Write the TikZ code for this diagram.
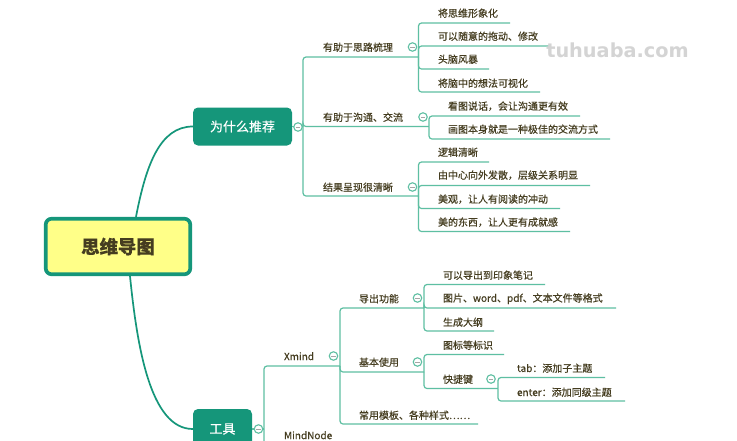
\documentclass[tikz,border=0pt]{standalone}
\usepackage{fontspec}
\setmainfont[FakeBold=0.4]{Noto Sans CJK SC}
\newfontfamily\markfont{DejaVu Sans}
\definecolor{deepgreen}{HTML}{15967A}
\definecolor{softgreen}{HTML}{5EBFA2}
\definecolor{inkbrown}{HTML}{453D20}
\definecolor{paleyellow}{HTML}{FFFF88}
\tikzset{
  topictext/.style={anchor=west,inner sep=0pt,outer sep=0pt,yshift=-0.2pt,text=inkbrown,font=\fontsize{10}{12}\selectfont},
  link/.style={draw=softgreen,line width=1.2pt,rounded corners=3pt},
  mainlink/.style={draw=deepgreen,line width=1.7pt},
  branchbox/.style={draw=none,fill=deepgreen,rounded corners=5pt,inner sep=0pt,minimum width=99pt,text=white,font=\fontsize{13}{15}\selectfont},
  toggle/.style={circle,draw=softgreen,line width=1.1pt,fill=white,minimum size=8.5pt,inner sep=0pt,path picture={\draw[color=gray!70,line width=.8pt] ([xshift=-2.2pt]path picture bounding box.center) -- ([xshift=2.2pt]path picture bounding box.center);}},
}
\newcommand{\topicat}[6]{% name, x text, y text, text, x end, y line
  \node[topictext] (#1) at (#2,#3) {#4};
  \coordinate (#1-e) at (#5,#6);
}
\begin{document}
\begin{tikzpicture}[x=1pt,y=-1pt]
\useasboundingbox (0,0) rectangle (737,440);
\fill[white] (0,0) rectangle (737,440);
\clip (0,0) rectangle (737,440);

% main nodes
\node[draw=deepgreen,line width=3.7pt,fill=paleyellow,rounded corners=6pt,minimum width=144.6pt,minimum height=55.6pt,inner sep=0pt,text=inkbrown,font=\fontsize{18.4}{20}\selectfont\bfseries] (main) at (118,246.5) {思维导图};
\node[branchbox,minimum height=38pt] (why) at (242.5,126.5) {为什么推荐};
\node[branchbox,minimum width=59pt,minimum height=40pt] (tool) at (222.5,429) {工具};
\coordinate (why-e) at (303,126.5);
\coordinate (tool-e) at (264,429);

% topics
\topicat{a}{323}{47}{有助于思路梳理}{418.5}{57}
\topicat{a1}{438}{13}{将思维形象化}{510}{23}
\topicat{a2}{438}{36}{可以随意的拖动、修改}{549}{46}
\topicat{a3}{438}{59}{头脑风暴}{489}{69}
\topicat{a4}{438}{83}{将脑中的想法可视化}{540}{92}
\topicat{b}{323}{117}{有助于沟通、交流}{429}{126.5}
\topicat{b1}{448}{106}{看图说话，会让沟通更有效}{580}{116}
\topicat{b2}{448}{129}{画图本身就是一种极佳的交流方式}{610}{139}
\topicat{c}{323}{187}{结果呈现很清晰}{418.5}{196}
\topicat{c1}{438}{152}{逻辑清晰}{489}{162}
\topicat{c2}{438}{175}{由中心向外发散，层级关系明显}{590}{185.5}
\topicat{c3}{438}{199}{美观，让人有阅读的冲动}{560}{208.5}
\topicat{c4}{438}{222}{美的东西，让人更有成就感}{570}{231.5}

\topicat{x}{284}{356}{Xmind}{340}{366}
\topicat{m}{284}{435}{MindNode}{340}{447}
\topicat{d}{359}{298.5}{导出功能}{424}{308}
\topicat{d1}{443}{275}{可以导出到印象笔记}{545}{284.5}
\topicat{d2}{443}{298.5}{图片、word、pdf、文本文件等格式}{616}{308}
\topicat{d3}{443}{322}{生成大纲}{494}{331}
\topicat{e}{359}{362}{基本使用}{424}{372}
\topicat{e1}{443}{345}{图标等标识}{504}{354.5}
\topicat{e2}{443}{379}{快捷键}{498}{388.5}
\topicat{f1}{517}{368}{tab：添加子主题}{605}{377.5}
\topicat{f2}{517}{392}{enter：添加同级主题}{625}{401}
\topicat{g}{359}{415}{常用模板、各种样式……}{478}{424}

% curved connectors
\draw[mainlink] ([xshift=18pt]main.north) .. controls +(10,-52) and (160,126.5) .. (why.west);
\draw[mainlink] ([xshift=12pt]main.south) .. controls +(7,69) and (150,429) .. (tool.west);

% connectors
\draw[link] (why.east) -- (why-e);
\draw[link] (tool.east) -- (tool-e);
\foreach \p/\c in {why-e/a,why-e/b,why-e/c,a-e/a1,a-e/a2,a-e/a3,a-e/a4,b-e/b1,b-e/b2,c-e/c1,c-e/c2,c-e/c3,c-e/c4,tool-e/x,tool-e/m,x-e/d,x-e/e,x-e/g,d-e/d1,d-e/d2,d-e/d3,e-e/e1,e-e/e2,e2-e/f1,e2-e/f2}
  \draw[link] (\p) |- (\c-e);

% toggles
\foreach \n/\px/\py in {twhy/298/127,ta/412.5/47,tb/423/117,tc/412.5/187,ttool/258.5/429,tx/333.5/356,td/417.5/298,te/417.5/362,te2/491/379}
  \node[toggle] (\n) at (\px,\py) {};

% watermark
\node[anchor=center,inner sep=0pt,text=black!17,font=\markfont\fontsize{19.3}{22}\selectfont\bfseries] (mark) at (617.5,50) {tuhuaba.com};
\end{tikzpicture}
\end{document}
